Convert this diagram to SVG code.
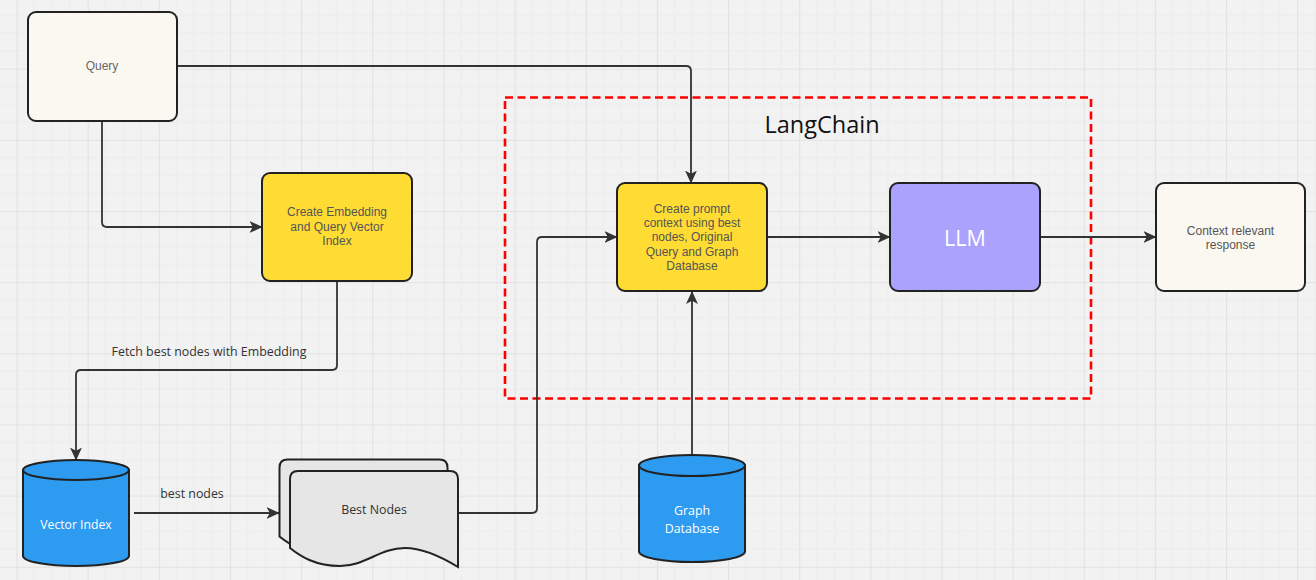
<svg xmlns="http://www.w3.org/2000/svg" width="1316" height="580" viewBox="0 0 1316 580">
<defs>
<pattern id="grid" patternUnits="userSpaceOnUse" x="16.5" y="-2.45" width="71.15" height="71.15">
<rect width="71.15" height="71.15" fill="#f2f2f2"/>
<path d="M17.79,0V71.15M35.58,0V71.15M53.36,0V71.15M0,17.79H71.15M0,35.58H71.15M0,53.36H71.15" stroke="#ececec" stroke-width="1" fill="none"/>
<path d="M0.5,0V71.15M0,0.5H71.15" stroke="#e2e2e2" stroke-width="1.2" fill="none"/>
</pattern>
<marker id="arr" markerUnits="userSpaceOnUse" markerWidth="13" markerHeight="13" viewBox="0 0 12 12" refX="11.5" refY="6" orient="auto">
<path d="M0,0.5 L12,6 L0,11.5 L3,6 Z" fill="#333"/>
</marker>
</defs>
<style>
.box{stroke:#222;stroke-width:2}
.conn path{fill:none;stroke:#333;stroke-width:1.8;marker-end:url(#arr)}
.t{font-family:"Liberation Sans",Arial,sans-serif;font-size:12px;fill:#555;text-anchor:middle}
.o{font-family:"Open Sans","Noto Sans",sans-serif;font-size:12.4px;text-anchor:middle}
.lbl{font-family:"Open Sans","Noto Sans",sans-serif;font-size:12.4px;fill:#333;text-anchor:middle}
</style>
<rect width="1316" height="580" fill="url(#grid)"/>

<g id="langchain-group">
<rect x="505" y="97.5" width="586" height="301" fill="none" stroke="#ff0000" stroke-width="2.6" stroke-dasharray="8,4.5"/>
<text x="822" y="132.5" style="font-family:'Open Sans','Noto Sans',sans-serif;font-size:23.5px;fill:#111;text-anchor:middle">LangChain</text>
</g>

<g class="conn" id="connectors">
<path d="M102,121 V222 Q102,227 107,227 H262"/>
<path d="M177,66 H686 Q691,66 691,71 V183"/>
<path d="M337,281 V365 Q337,370 332,370 H81 Q76,370 76,375 V460"/>
<path d="M134,513 H279"/>
<path d="M458,513 H532 Q537,513 537,508 V242 Q537,237 542,237 H617"/>
<path d="M692,455 V291.5"/>
<path d="M767,237 H890"/>
<path d="M1040,237 H1156"/>
<text class="lbl" x="209" y="356">Fetch best nodes with Embedding</text>
<text class="lbl" x="192" y="498">best nodes</text>
</g>

<g id="query">
<rect class="box" x="28" y="12" width="149" height="109" rx="8" fill="#fbf8f2"/>
<text class="t" x="102" y="70" style="fill:#666">Query</text>
</g>

<g id="embed">
<rect class="box" x="262" y="173" width="150" height="108" rx="8" fill="#ffdc33"/>
<text class="t" x="337" y="216">Create Embedding</text>
<text class="t" x="337" y="230.5">and Query Vector</text>
<text class="t" x="337" y="244.5">Index</text>
</g>

<g id="vector-index">
<path class="box" d="M23,470 V556 A53,10 0 0 0 129,556 V470 Z" fill="#2d9bf0"/>
<ellipse class="box" cx="76" cy="470" rx="53" ry="10" fill="#2d9bf0"/>
<text class="o" x="76" y="528.5" style="fill:#fff;font-size:12.2px">Vector Index</text>
</g>

<g id="best-nodes">
<path class="box" d="M279.5,467.5 Q279.5,459.5 287.5,459.5 L439.5,459.5 Q447.5,459.5 447.5,467.5 L447.5,555.5 C429.5,544.5 409.5,536.5 394.5,536.5 C369.5,536.5 354.5,554.5 329.5,554.5 C304.5,554.5 289.5,544.5 279.5,536.5 Z" fill="#e6e6e6"/>
<path class="box" d="M290,479 Q290,471 298,471 L450,471 Q458,471 458,479 L458,567 C440,556 420,548 405,548 C380,548 365,566 340,566 C315,566 300,556 290,548 Z" fill="#e6e6e6"/>
<text class="o" x="374" y="513.5" style="fill:#333">Best Nodes</text>
</g>

<g id="prompt">
<rect class="box" x="617" y="183" width="150" height="108" rx="8" fill="#ffdc33"/>
<text class="t" x="692" y="213">Create prompt</text>
<text class="t" x="692" y="227">context using best</text>
<text class="t" x="692" y="241">nodes, Original</text>
<text class="t" x="692" y="255.5">Query and Graph</text>
<text class="t" x="692" y="269.5">Database</text>
</g>

<g id="llm">
<rect class="box" x="890" y="183" width="150" height="108" rx="8" fill="#aaa2fd"/>
<text x="965" y="245.5" style="font-family:'Open Sans','Noto Sans',sans-serif;font-size:21.5px;fill:#fff;text-anchor:middle">LLM</text>
</g>

<g id="response">
<rect class="box" x="1156" y="183" width="149" height="108" rx="8" fill="#fbf8f2"/>
<text class="t" x="1230.5" y="235">Context relevant</text>
<text class="t" x="1230.5" y="249">response</text>
</g>

<g id="graph-db">
<path class="box" d="M639,465.5 V551.5 A53,10.5 0 0 0 745,551.5 V465.5 Z" fill="#2d9bf0"/>
<ellipse class="box" cx="692" cy="465.5" rx="53" ry="10.5" fill="#2d9bf0"/>
<text class="o" x="692" y="515" style="fill:#fff">Graph</text>
<text class="o" x="692" y="533" style="fill:#fff">Database</text>
</g>
</svg>
